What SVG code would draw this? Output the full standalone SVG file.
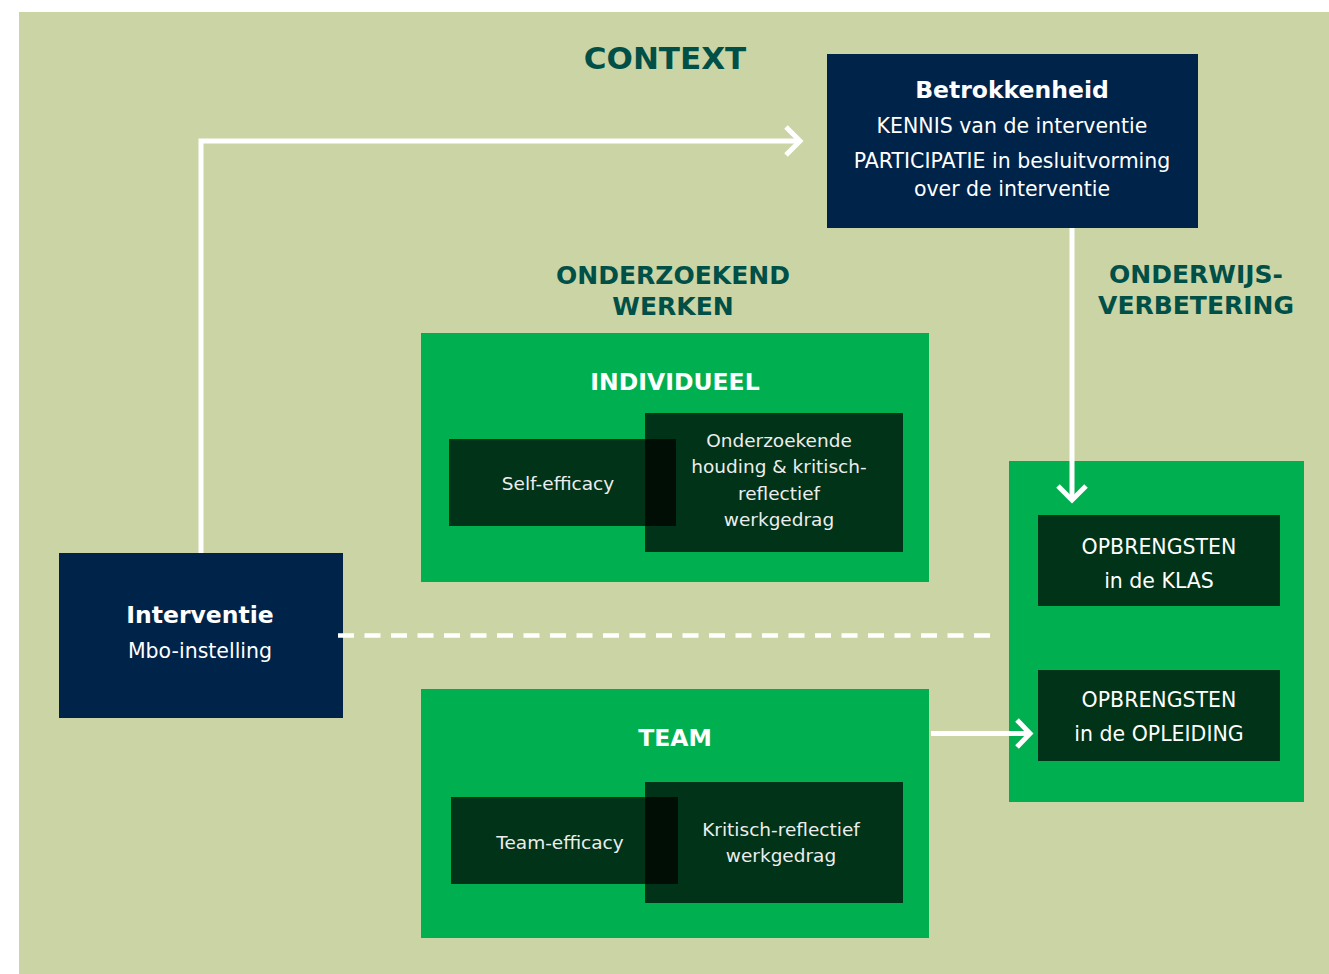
<svg xmlns="http://www.w3.org/2000/svg" width="1329" height="974" viewBox="0 0 1329 974">
<defs>
<style>
.bg{fill:#CBD4A5}
.green{fill:#00B050}
.navy{fill:#00234A}
.dark{fill:#000;fill-opacity:0.71}
.head{font-family:"DejaVu Sans","Liberation Sans",sans-serif;font-weight:700;fill:#005048;font-size:25px;text-anchor:middle}
.wb{font-family:"DejaVu Sans","Liberation Sans",sans-serif;font-weight:700;fill:#fff;font-size:23.5px;text-anchor:middle}
.wt{font-family:"DejaVu Sans","Liberation Sans",sans-serif;fill:#fff;font-size:20.5px;text-anchor:middle}
.lt{font-family:"DejaVu Sans","Liberation Sans",sans-serif;fill:#EDEDED;font-size:18.5px;text-anchor:middle}
.line{fill:none;stroke:#fff;stroke-width:5}
</style>
</defs>
<rect class="bg" x="19" y="12" width="1310" height="962"/>
<text class="head" x="665" y="69" style="font-size:31px">CONTEXT</text>
<text class="head" x="673" y="284">ONDERZOEKEND</text>
<text class="head" x="673" y="315">WERKEN</text>
<text class="head" x="1196" y="283">ONDERWIJS-</text>
<text class="head" x="1196" y="314">VERBETERING</text>
<g id="betrokkenheid">
<rect class="navy" x="827" y="54" width="371" height="174"/>
<text class="wb" x="1012" y="98">Betrokkenheid</text>
<text class="wt" x="1012" y="133">KENNIS van de interventie</text>
<text class="wt" x="1012" y="168">PARTICIPATIE in besluitvorming</text>
<text class="wt" x="1012" y="196">over de interventie</text>
</g>
<g id="interventie">
<rect class="navy" x="59" y="553" width="284" height="165"/>
<text class="wb" x="200" y="623">Interventie</text>
<text class="wt" x="200" y="658">Mbo-instelling</text>
</g>
<g id="individueel">
<rect class="green" x="421" y="333" width="508" height="249"/>
<text class="wb" x="675" y="390">INDIVIDUEEL</text>
</g>
<g id="self-efficacy">
<rect class="dark" x="449" y="439" width="227" height="87"/>
<text class="lt" x="558" y="490">Self-efficacy</text>
</g>
<g id="onderzoekende-houding">
<rect class="dark" x="645" y="413" width="258" height="139"/>
<text class="lt" x="779" y="447">Onderzoekende</text>
<text class="lt" x="779" y="473">houding &amp; kritisch-</text>
<text class="lt" x="779" y="500">reflectief</text>
<text class="lt" x="779" y="526">werkgedrag</text>
</g>
<g id="team">
<rect class="green" x="421" y="689" width="508" height="249"/>
<text class="wb" x="675" y="746">TEAM</text>
</g>
<g id="team-efficacy">
<rect class="dark" x="451" y="797" width="227" height="87"/>
<text class="lt" x="560" y="849">Team-efficacy</text>
</g>
<g id="kritisch-reflectief">
<rect class="dark" x="645" y="782" width="258" height="121"/>
<text class="lt" x="781" y="836">Kritisch-reflectief</text>
<text class="lt" x="781" y="862">werkgedrag</text>
</g>
<g id="opbrengsten">
<rect class="green" x="1009" y="461" width="295" height="341"/>
</g>
<g id="opbrengsten-klas">
<rect class="dark" x="1038" y="515" width="242" height="91"/>
<text class="wt" x="1159" y="554">OPBRENGSTEN</text>
<text class="wt" x="1159" y="588">in de KLAS</text>
</g>
<g id="opbrengsten-opleiding">
<rect class="dark" x="1038" y="670" width="242" height="91"/>
<text class="wt" x="1159" y="707">OPBRENGSTEN</text>
<text class="wt" x="1159" y="741">in de OPLEIDING</text>
</g>
<g id="connectors">
<polyline class="line" points="201,553 201,141 799,141"/>
<polyline class="line" points="786,127 800,141 786,155"/>
<line class="line" x1="1072" y1="228" x2="1072" y2="499"/>
<polyline class="line" points="1058,486 1072,500 1086,486"/>
<line class="line" x1="931" y1="733.5" x2="1029" y2="733.5"/>
<polyline class="line" points="1017,720 1030,733.5 1017,747"/>
<line x1="338" y1="635.5" x2="1000" y2="635.5" stroke="#fff" stroke-width="4.5" stroke-dasharray="16 10.5"/>
</g>
</svg>
